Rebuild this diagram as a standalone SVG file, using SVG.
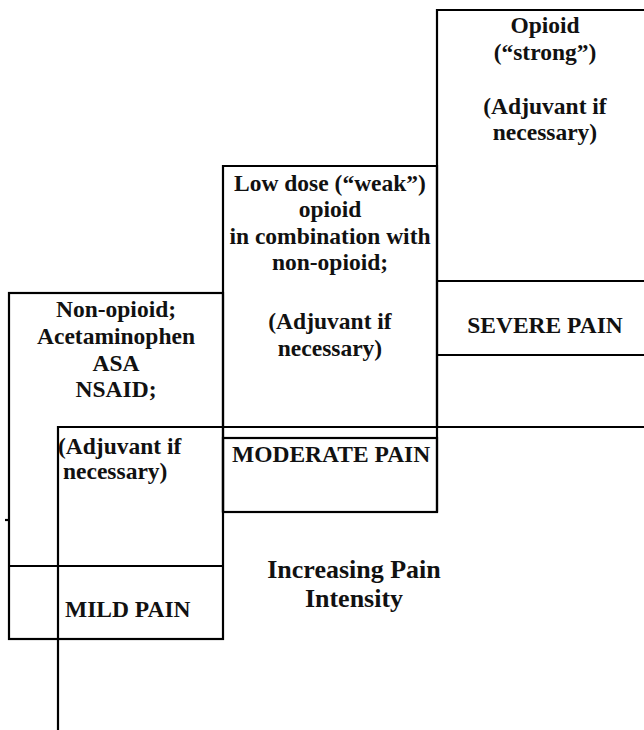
<svg xmlns="http://www.w3.org/2000/svg" width="644" height="730" viewBox="0 0 644 730">
  <style>
    .box { fill: none; stroke: #000; stroke-width: 2.2; }
    .rule { fill: none; stroke: #000; stroke-width: 2.2; }
    text { font-family: "Liberation Serif", "Times New Roman", serif; font-weight: bold; font-size: 23.5px; fill: #111; }
    .mid { text-anchor: middle; }
    .big { font-size: 26px; }
  </style>
  <rect width="644" height="730" fill="#fff"/>

  <!-- step 1: non-opioid, mild pain -->
  <g id="step-mild">
    <rect class="box" x="9" y="293" width="214" height="346"/>
    <line class="box" x1="9" y1="566" x2="223" y2="566"/>
    <line class="box" x1="5" y1="520" x2="9" y2="520"/>
    <text class="mid" x="116" y="317">Non-opioid;</text>
    <text class="mid" x="116" y="344">Acetaminophen</text>
    <text class="mid" x="116" y="371">ASA</text>
    <text class="mid" x="116" y="397">NSAID;</text>
    <text x="58" y="454">(Adjuvant if</text>
    <text x="63" y="479">necessary)</text>
    <text x="65" y="617">MILD PAIN</text>
  </g>

  <!-- step 2: weak opioid, moderate pain -->
  <g id="step-moderate">
    <path class="box" d="M223,512 V166 H437 V512"/>
    <rect class="box" x="223" y="438" width="214" height="74"/>
    <text class="mid" x="330" y="191">Low dose (“weak”)</text>
    <text class="mid" x="330" y="217">opioid</text>
    <text class="mid" x="330" y="244">in combination with</text>
    <text class="mid" x="330" y="270">non-opioid;</text>
    <text class="mid" x="330" y="329">(Adjuvant if</text>
    <text class="mid" x="330" y="356">necessary)</text>
    <text x="232" y="462">MODERATE PAIN</text>
  </g>

  <!-- step 3: strong opioid, severe pain -->
  <g id="step-severe">
    <path class="box" d="M437,427 V10 H654"/>
    <line class="box" x1="437" y1="281" x2="654" y2="281"/>
    <line class="box" x1="437" y1="355" x2="654" y2="355"/>
    <text class="mid" x="545" y="33">Opioid</text>
    <text class="mid" x="545" y="60">(“strong”)</text>
    <text class="mid" x="545" y="114">(Adjuvant if</text>
    <text class="mid" x="545" y="140">necessary)</text>
    <text class="mid" x="545" y="333">SEVERE PAIN</text>
  </g>

  <!-- axis lines of the staircase -->
  <g id="connectors">
    <path class="rule" d="M58,730 V427 H644"/>
  </g>

  <g id="axis-label">
    <text class="mid big" x="354" y="578">Increasing Pain</text>
    <text class="mid big" x="354" y="607">Intensity</text>
  </g>
</svg>
